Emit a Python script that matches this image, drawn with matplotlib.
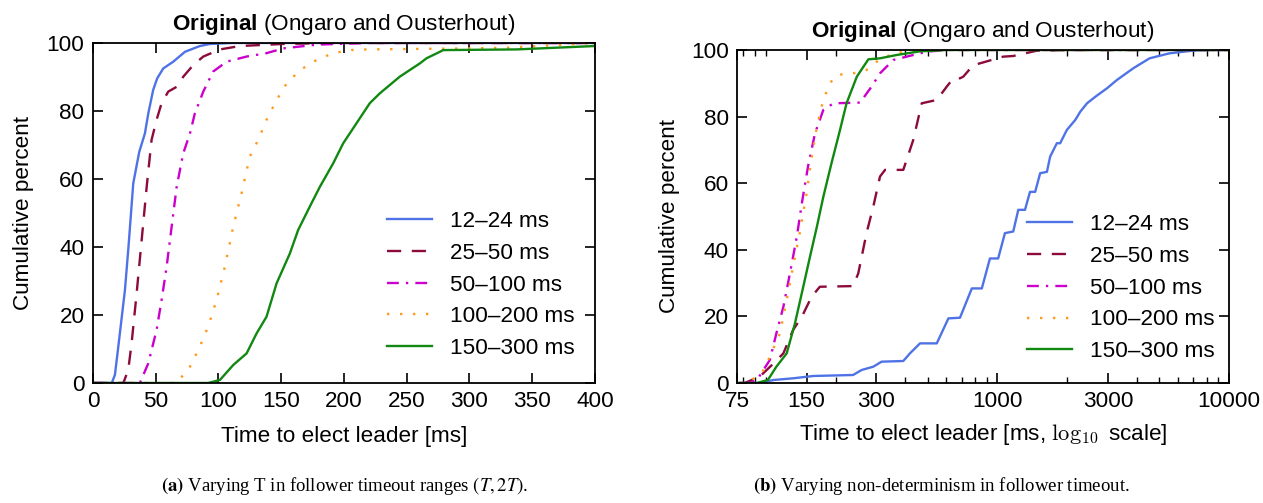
import matplotlib
matplotlib.use("Agg")
import matplotlib.pyplot as plt
from matplotlib.ticker import FixedLocator, LogLocator, NullFormatter

plt.rcParams["font.family"] = ["Liberation Sans", "DejaVu Sans"]
plt.rcParams["mathtext.fontset"] = "custom"
plt.rcParams["mathtext.rm"] = "Liberation Sans"
plt.rcParams["mathtext.bf"] = "Liberation Sans:bold"

LABELS = ["12–24 ms", "25–50 ms", "50–100 ms", "100–200 ms", "150–300 ms"]
COLORS = ["#4f73e6", "#8c0a3c", "#cc00cc", "#ff9a1a", "#118811"]
STYLES = ["-", (0, (6, 4.5)), (0, (5, 3, 1, 3)), (0, (1, 4.5)), "-"]

# (a) linear x, ms / cumulative percent
a_x = [
    [0, 15, 17.5, 20.2, 25.5, 28.3, 32.1, 36.9, 41.4, 44.1, 48, 51.2, 56, 64, 73.3, 85.2, 93.2, 111, 400],
    [0, 24.2, 28.1, 30.8, 34.8, 38.8, 42.8, 46.7, 50.7, 54.7, 60, 66.7, 72, 79.9, 87.9, 101.2, 117.1, 151, 190, 400],
    [0, 37.4, 44.1, 50.7, 54.7, 58.7, 62.7, 66.7, 71.9, 77.3, 81.2, 87.9, 95.8, 106.5, 122.4, 138.3, 151.6, 178, 220, 400],
    [0, 66.7, 77.3, 85.2, 91.8, 98.5, 105.1, 111.8, 118.4, 125, 131.7, 138.3, 146.3, 154.3, 164.9, 178.2, 191.4, 204.7, 218, 300, 330, 400],
    [0, 91.8, 101.2, 111.8, 122.4, 130.4, 138.3, 146.3, 156.9, 163.5, 172.8, 180.8, 191.4, 199.4, 210, 220.6, 228.6, 244.5, 260.5, 265.8, 276.4, 279, 337.5, 400],
]
a_y = [
    [0, 0, 2.4, 10.7, 27.4, 40, 58.7, 68, 73.4, 79.3, 86.2, 89.6, 92.5, 94.5, 97.4, 99.1, 99.7, 100, 100],
    [0, 0, 3.8, 11.7, 26.4, 42, 57.7, 71.5, 77.4, 82.3, 85.7, 87.1, 90.1, 93.5, 96, 98.1, 99.1, 99.7, 100, 100],
    [0, 0, 5.8, 15.6, 24.4, 34.2, 46, 57.7, 67.5, 73.4, 79.3, 85.7, 91.6, 94.5, 96, 97, 98.4, 99.5, 100, 100],
    [0, 0, 4.8, 10.7, 16.6, 24.4, 34.2, 46, 55.8, 66.6, 71.5, 77.4, 83.2, 88.1, 92, 95, 97, 97.9, 98.1, 98.4, 98.6, 100],
    [0, 0, 0.9, 5.3, 8.7, 14.6, 19.5, 29.3, 38.1, 45, 51.9, 57.7, 64.6, 70.5, 76.4, 82.3, 85.2, 90.1, 94, 95.5, 97.4, 97.9, 98.1, 99.1],
]

# (b) log x, ms / cumulative percent
b_x = [
    [60, 94, 108, 131, 160, 238, 259, 291, 316, 392, 419, 463, 547, 614, 689, 775, 856, 928, 1007, 1077, 1170, 1230, 1315, 1382,
     1455, 1529, 1635, 1689, 1805, 1865, 1994, 2168, 2280, 2437, 2651, 2971, 3281, 3857, 4537, 5527, 6973, 8250, 10000],
    [60, 81, 94, 108, 119, 131, 143, 157.5, 171, 238, 250.5, 272, 291, 311, 327, 392, 433, 471, 547, 604, 645, 689, 712, 787,
     841, 1058, 1170, 1480, 2100, 10000],
    [60, 84, 91.5, 104, 111, 119, 127, 136, 143, 152, 163, 177, 196, 255, 286, 311, 355, 433, 496, 600, 10000],
    [60, 82.5, 96, 104, 115, 123, 131, 140, 150, 157, 166, 177, 189, 202, 238, 272, 301, 355, 433, 600, 10000],
    [60, 91.5, 102, 111, 123, 133.5, 145, 155, 166, 177, 192, 209, 223, 247, 277, 311, 367, 463, 604, 10000],
]
b_y = [
    [0, 0, 0.9, 1.4, 2.1, 2.4, 3.9, 4.9, 6.4, 6.6, 8.9, 11.9, 11.9, 19.4, 19.6, 28.4, 28.4, 37.4, 37.4, 45, 45.5, 52, 52, 57.4,
     57.4, 63, 63.4, 68, 72, 72, 76, 79, 81.5, 84, 86, 88.5, 91, 94.5, 97.5, 99, 99.8, 100, 100],
    [0, 0, 1.9, 5.9, 8.9, 15.9, 19.9, 25.9, 28.9, 29.1, 32.9, 45, 53, 62, 64, 64, 73, 84, 85, 89, 91.5, 91.5, 92, 95.5,
     96, 98, 98.2, 99.8, 100, 100],
    [0, 0, 0.9, 6.9, 14.9, 22.9, 32.9, 43.9, 54, 65, 75, 82, 84, 84.2, 89, 93, 97, 98.5, 99.5, 100, 100],
    [0, 0, 2.9, 7.9, 14.9, 24.9, 34.9, 45, 57, 67, 77, 85, 90, 92.5, 93, 94, 96.5, 99, 99.8, 100, 100],
    [0, 0, 0.9, 4.9, 8.9, 17.9, 28.9, 37.9, 46.9, 55.9, 66, 76, 84, 92, 97.2, 97.5, 98.5, 99.6, 100, 100],
]

b_ticks = [75, 150, 300, 1000, 3000, 10000]

FS = 16.2

fig = plt.figure(figsize=(12.63, 5.03), dpi=100)
ax1 = fig.add_axes([0.0736, 0.2386, 0.3975, 0.676])
ax2 = fig.add_axes([0.5835, 0.2386, 0.3896, 0.662])

for xs, ys, lab, c, ls in zip(a_x, a_y, LABELS, COLORS, STYLES):
    ax1.plot(xs, ys, color=c, linestyle=ls, lw=1.7, label=lab)
for xs, ys, lab, c, ls in zip(b_x, b_y, LABELS, COLORS, STYLES):
    ax2.plot(xs, ys, color=c, linestyle=ls, lw=1.7, label=lab)

ax1.set_xlim(0, 400)
ax1.set_ylim(0, 100)
ax1.set_xticks(range(0, 401, 50))
ax1.set_yticks(range(0, 101, 20))

ax2.set_xscale("log")
ax2.set_xlim(75, 10000)
ax2.set_ylim(0, 100)
ax2.xaxis.set_major_locator(FixedLocator(b_ticks))
ax2.set_xticklabels([str(t) for t in b_ticks])
ax2.xaxis.set_minor_locator(LogLocator(base=10, subs=range(1, 10), numticks=20))
ax2.xaxis.set_minor_formatter(NullFormatter())
ax2.set_yticks(range(0, 101, 20))

for ax in (ax1, ax2):
    ax.tick_params(which="major", direction="in", length=7, width=1.2,
                   top=True, right=True, labelsize=FS, pad=6)
    ax.tick_params(which="minor", direction="in", length=4, width=1.0,
                   top=True, right=True)
    for s in ax.spines.values():
        s.set_linewidth(1.3)
    ax.set_title(r"$\mathbf{Original}$ (Ongaro and Ousterhout)", fontsize=FS, pad=9)

ax1.set_ylabel("Cumulative percent", fontsize=FS, labelpad=9)
ax2.set_ylabel("Cumulative percent", fontsize=FS, labelpad=8)
ax1.set_xlabel("Time to elect leader [ms]", fontsize=FS, labelpad=10)
xl = ax2.set_xlabel(r"Time to elect leader [ms, $\log_{10}$ scale]", fontsize=FS, labelpad=7)
xl.set_math_fontfamily("cm")

ax1.legend(loc="center left", bbox_to_anchor=(0.585, 0.288), frameon=False, fontsize=FS,
           handlelength=2.0, handletextpad=0.8, labelspacing=0.48, borderpad=0, borderaxespad=0)
ax2.legend(loc="center left", bbox_to_anchor=(0.589, 0.285), frameon=False, fontsize=FS,
           handlelength=2.0, handletextpad=0.8, labelspacing=0.48, borderpad=0, borderaxespad=0)

cap_a = fig.text(0.273, 0.034, r"$\mathbf{(a)}$ Varying T in follower timeout ranges $(T, 2T)$.",
                 ha="center", va="center", fontsize=13.5, family="Liberation Serif")
cap_b = fig.text(0.745, 0.034, r"$\mathbf{(b)}$ Varying non-determinism in follower timeout.",
                 ha="center", va="center", fontsize=13.5, family="Liberation Serif")
cap_a.set_math_fontfamily("stix")
cap_b.set_math_fontfamily("stix")

fig.savefig("out.png", dpi=100)
